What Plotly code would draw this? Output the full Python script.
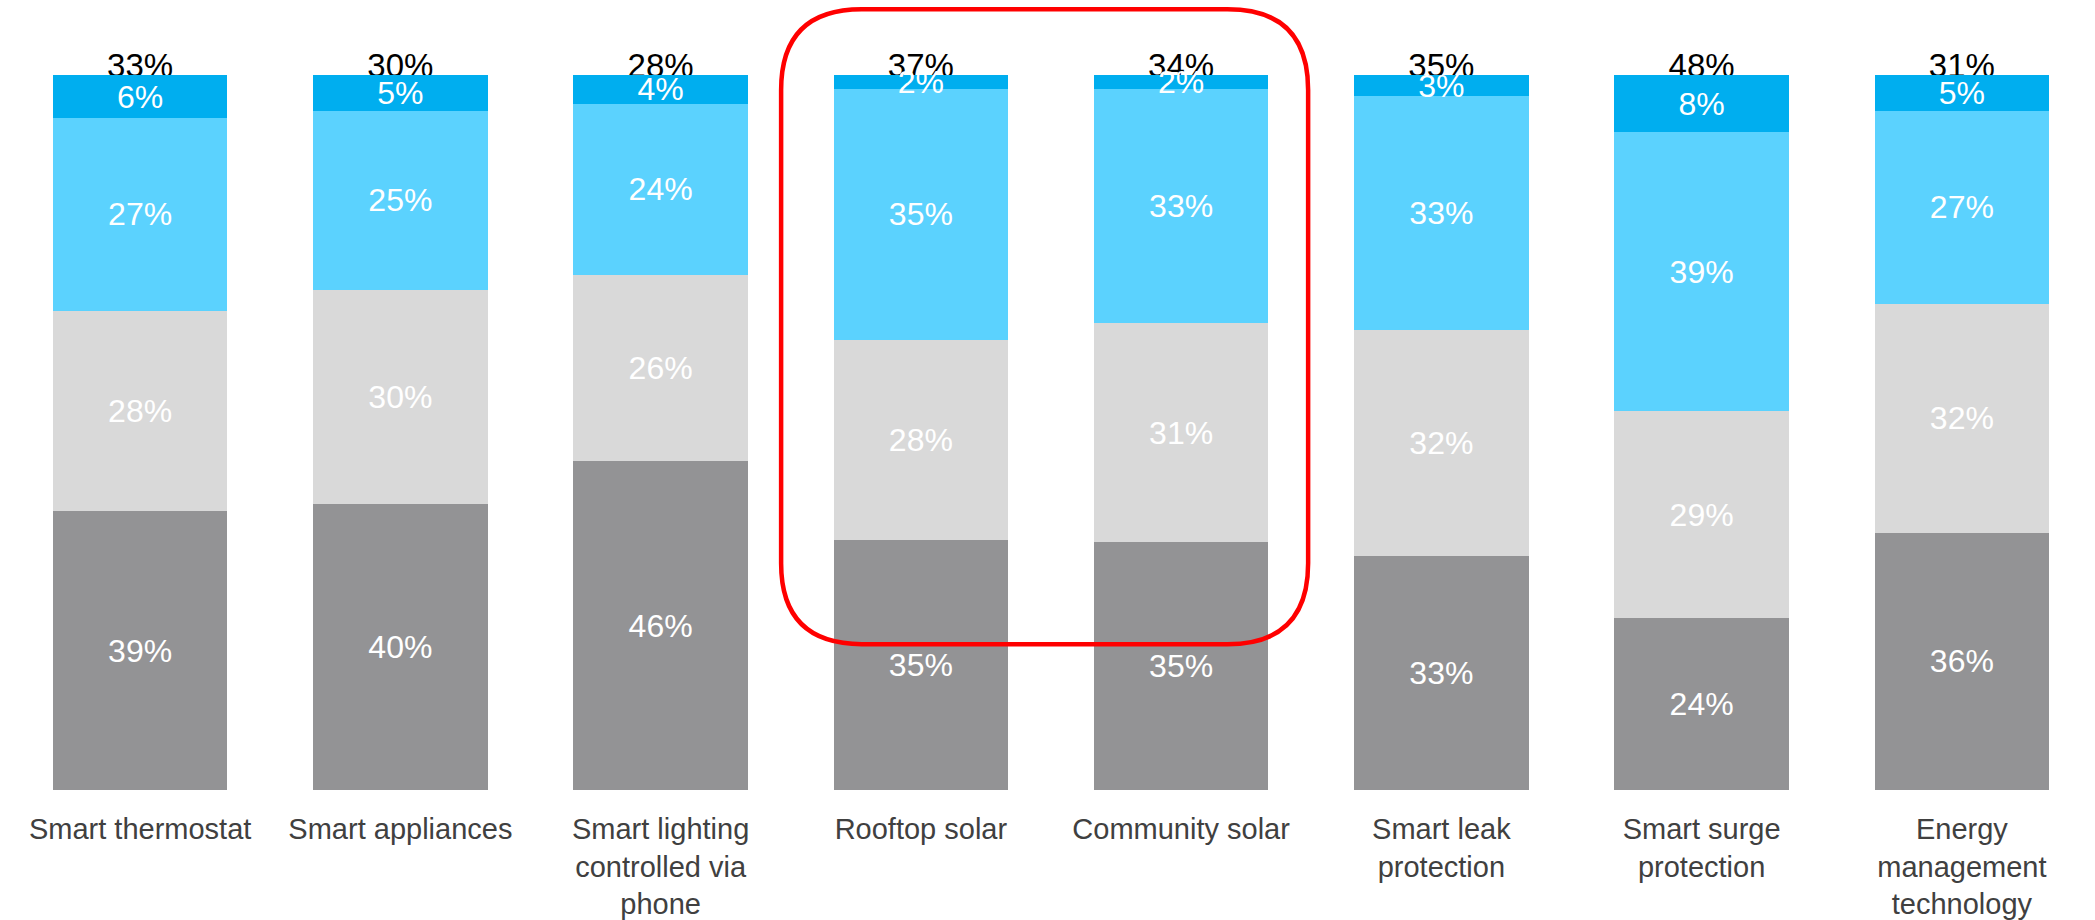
import plotly.graph_objects as go

categories = ["Smart thermostat", "Smart appliances", "Smart lighting<br>controlled via<br>phone",
              "Rooftop solar", "Community solar", "Smart leak<br>protection",
              "Smart surge<br>protection", "Energy<br>management<br>technology"]
seg_dark = [39, 40, 46, 35, 35, 33, 24, 36]
seg_lightgray = [28, 30, 26, 28, 31, 32, 29, 32]
seg_lightblue = [27, 25, 24, 35, 33, 33, 39, 27]
seg_blue = [6, 5, 4, 2, 2, 3, 8, 5]
totals = [33, 30, 28, 37, 34, 35, 48, 31]

xs = list(range(len(categories)))
FONT = "Arial, Liberation Sans, sans-serif"

fig = go.Figure()

# total labels (drawn beneath bars)
fig.add_trace(go.Scatter(
    x=xs, y=[100.9] * len(xs), mode="text",
    text=[f"{v}%" for v in totals], textposition="middle center",
    textfont=dict(family=FONT, size=33, color="#000000"),
    showlegend=False, hoverinfo="skip", zorder=0, cliponaxis=False,
))

series = [
    (seg_dark, "#939395"),
    (seg_lightgray, "#D9D9D9"),
    (seg_lightblue, "#5BD2FE"),
    (seg_blue, "#00AEEF"),
]
for vals, col in series:
    fig.add_trace(go.Bar(
        x=xs, y=vals, marker=dict(color=col, line=dict(width=0)),
        text=[f"{v}%" for v in vals], textposition="inside", textangle=0,
        insidetextanchor="middle", constraintext="none",
        textfont=dict(family=FONT, size=32, color="#FFFFFF"),
        showlegend=False, hoverinfo="skip", zorder=1,
    ))

# rounded highlight rectangle around Rooftop / Community solar
x0, x1, y0, y1 = 2.463, 4.488, 20.4, 109.2
rx, ry = 0.31, 11.3
path = (f"M {x0+rx},{y1} L {x1-rx},{y1} Q {x1},{y1} {x1},{y1-ry} "
        f"L {x1},{y0+ry} Q {x1},{y0} {x1-rx},{y0} L {x0+rx},{y0} "
        f"Q {x0},{y0} {x0},{y0+ry} L {x0},{y1-ry} Q {x0},{y1} {x0+rx},{y1} Z")
fig.add_shape(type="path", path=path, xref="x", yref="y",
              line=dict(color="#FF0000", width=4.5), layer="above")

fig.update_layout(
    width=2095, height=920,
    margin=dict(l=10, r=3, t=0, b=130),
    paper_bgcolor="#FFFFFF", plot_bgcolor="#FFFFFF",
    barmode="stack", barnorm="percent", bargap=0.33,
    uniformtext=dict(minsize=32, mode="show"),
    xaxis=dict(
        tickmode="array", tickvals=xs, ticktext=categories,
        range=[-0.5, len(xs) - 0.5], automargin=False,
        showline=True, linecolor="#FDEBD8", linewidth=2,
        showgrid=False, zeroline=False, ticks="",
        ticklabelstandoff=12,
        tickfont=dict(family=FONT, size=29, color="#404040"),
    ),
    yaxis=dict(range=[0, 110.5], visible=False, showgrid=False, zeroline=False,
               automargin=False),
)

fig.write_html("out.html")
